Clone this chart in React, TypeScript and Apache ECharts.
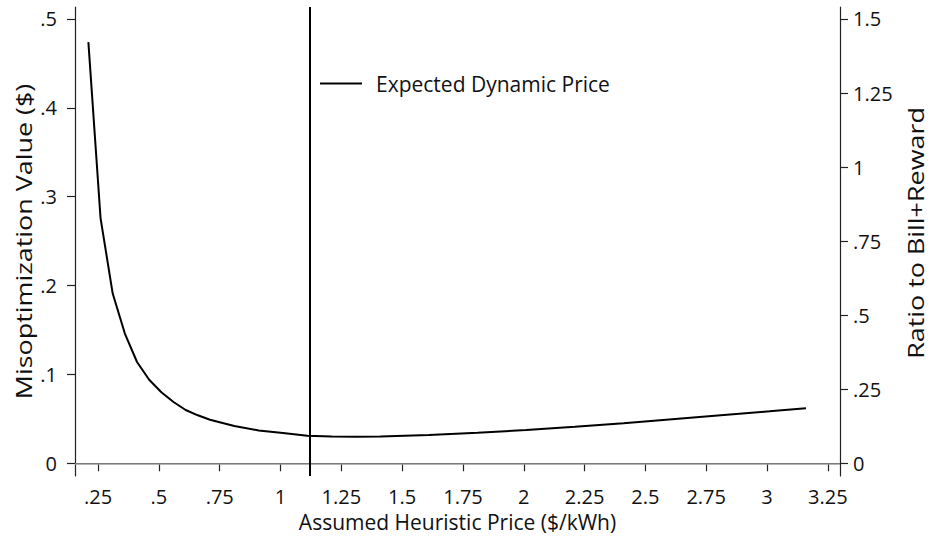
import React, { useEffect, useRef } from "react";
import * as echarts from "echarts";

// Assumed heuristic price ($/kWh)
const priceX = [0.21, 0.26, 0.31, 0.36, 0.41, 0.46, 0.51, 0.56, 0.61, 0.66, 0.71, 0.81, 0.91, 1.01, 1.11, 1.21, 1.31, 1.41, 1.61, 1.81, 2.01, 2.21, 2.41, 2.61, 2.81, 3.01, 3.16];
// Misoptimization value ($)
const misoptValue = [0.474, 0.276, 0.191, 0.146, 0.114, 0.094, 0.080, 0.069, 0.060, 0.054, 0.049, 0.042, 0.037, 0.034, 0.031, 0.0302, 0.0300, 0.0302, 0.0318, 0.0343, 0.0375, 0.041, 0.045, 0.0495, 0.054, 0.0585, 0.062];
const expectedDynamicPrice = 1.12;

const xTicks = [0.25, 0.5, 0.75, 1, 1.25, 1.5, 1.75, 2, 2.25, 2.5, 2.75, 3, 3.25];
const yLeftTicks = [0, 0.1, 0.2, 0.3, 0.4, 0.5];
const yRightTicks = [0, 0.25, 0.5, 0.75, 1, 1.25, 1.5];

const xTitle = "Assumed Heuristic Price ($/kWh)";
const yLeftTitle = "Misoptimization Value ($)";
const yRightTitle = "Ratio to Bill+Reward";

const xMin = 0.155, xMax = 3.3;
const yMin = -0.0143, yMax = 0.5135;

const FONT = "Open Sans";
const fmt = (v: number) => {
  const r = Math.round(v * 1000) / 1000;
  if (r === 0) return "0";
  return String(r).replace(/^0\./, ".");
};

export default function App() {
  const ref = useRef<HTMLDivElement>(null);
  useEffect(() => {
    if (!ref.current) return;
    const chart = echarts.init(ref.current, null, { renderer: "svg" });
    const axisColor = "#222";
    const textColor = "#111";
    chart.setOption({
      animation: false,
      backgroundColor: "#fff",
      textStyle: { fontFamily: FONT, color: textColor },
      grid: { left: 75, right: 91, top: 7, bottom: 64 },
      legend: {
        data: ["Expected Dynamic Price"],
        left: 315,
        top: 68,
        icon: "rect",
        itemWidth: 42,
        itemHeight: 2,
        textStyle: { fontFamily: FONT, fontSize: 21, color: textColor, padding: [0, 0, 0, 9] },
      },
      graphic: [
        {
          type: "text",
          x: 23.5,
          y: 241.5,
          rotation: Math.PI / 2,
          scaleX: 1.28,
          scaleY: 1,
          silent: true,
          style: { text: yLeftTitle, fontFamily: FONT, fontSize: 21, fill: textColor, align: "center", verticalAlign: "middle" },
        },
        {
          type: "text",
          x: 915.5,
          y: 233,
          rotation: Math.PI / 2,
          scaleX: 1.28,
          scaleY: 1,
          silent: true,
          style: { text: yRightTitle, fontFamily: FONT, fontSize: 21, fill: textColor, align: "center", verticalAlign: "middle" },
        },
      ],
      xAxis: {
        type: "value",
        min: xMin,
        max: xMax,
        name: xTitle,
        nameLocation: "middle",
        nameGap: 35,
        nameTextStyle: { fontFamily: FONT, fontSize: 21, color: textColor },
        splitLine: { show: false },
        axisLine: { show: true, lineStyle: { color: axisColor, width: 1.2 } },
        axisTick: { show: true, length: 8, lineStyle: { color: axisColor, width: 1.2 }, customValues: xTicks },
        axisLabel: { fontFamily: FONT, fontSize: 20, color: textColor, margin: 10, customValues: xTicks, formatter: fmt },
      },
      yAxis: [
        {
          type: "value",
          min: yMin,
          max: yMax,
          position: "left",
          splitLine: { show: false },
          axisLine: { show: true, lineStyle: { color: axisColor, width: 1.2 } },
          axisTick: { show: true, length: 8, lineStyle: { color: axisColor, width: 1.2 }, customValues: yLeftTicks },
          axisLabel: { fontFamily: FONT, fontSize: 20, color: textColor, margin: 18, customValues: yLeftTicks, formatter: fmt },
        },
        {
          type: "value",
          min: yMin * 3,
          max: yMax * 3,
          position: "right",
          splitLine: { show: false },
          axisLine: { show: true, lineStyle: { color: axisColor, width: 1.2 } },
          axisTick: { show: true, length: 8, lineStyle: { color: axisColor, width: 1.2 }, customValues: yRightTicks },
          axisLabel: { fontFamily: FONT, fontSize: 20, color: textColor, margin: 13, customValues: yRightTicks, formatter: fmt },
        },
      ],
      series: [
        {
          name: "Misoptimization",
          type: "line",
          yAxisIndex: 0,
          data: priceX.map((x, i) => [x, misoptValue[i]]),
          showSymbol: false,
          symbol: "none",
          lineStyle: { color: "#000", width: 2 },
          z: 3,
          markLine: {
            silent: true,
            symbol: "none",
            label: { show: false },
            lineStyle: { color: "#9a9a9a", width: 1.5, type: "solid" },
            data: [{ yAxis: 0 }],
          },
        },
        {
          name: "Expected Dynamic Price",
          type: "line",
          yAxisIndex: 0,
          data: [],
          symbol: "none",
          itemStyle: { color: "#000" },
          lineStyle: { color: "#000", width: 2 },
          z: 4,
          markLine: {
            silent: true,
            symbol: "none",
            label: { show: false },
            lineStyle: { color: "#000", width: 2, type: "solid" },
            data: [{ xAxis: expectedDynamicPrice }],
          },
        },
      ],
    });
    return () => chart.dispose();
  }, []);
  return <div ref={ref} style={{ width: 931, height: 540, position: "absolute", left: 0, top: 0 }} />;
}
